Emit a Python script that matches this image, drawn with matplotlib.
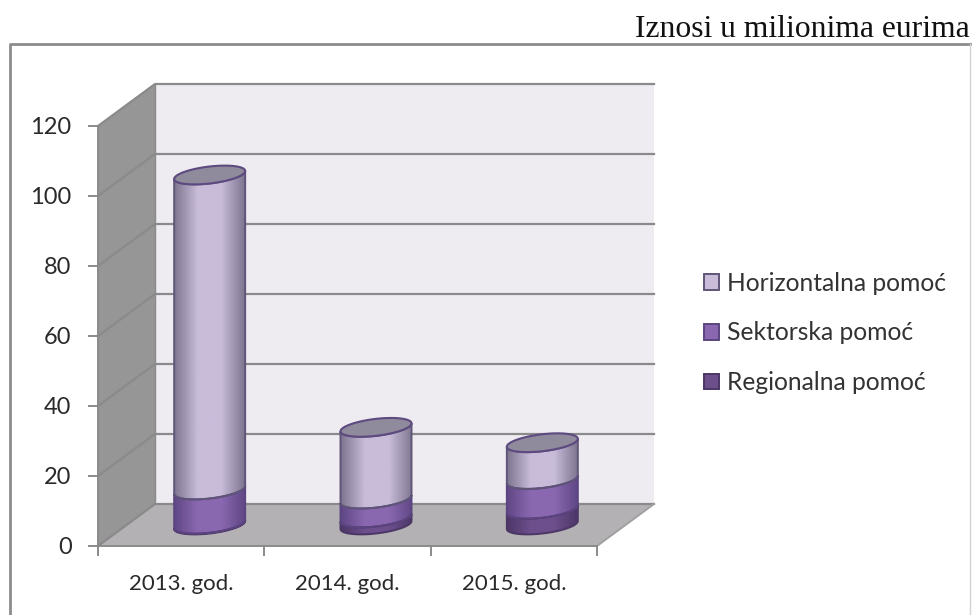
import numpy as np
import matplotlib
matplotlib.use('Agg')
import matplotlib.pyplot as plt
from matplotlib.colors import LinearSegmentedColormap
from matplotlib.lines import Line2D
from matplotlib.patches import Patch, Polygon

# Values
years = ['2013. god.', '2014. god.', '2015. god.']
regionalna = [0.2, 2, 4.5]
sektorska = [9.8, 5.4, 8.5]
horizontalna = [90, 20.5, 10.5]
y_ticks = [0, 20, 40, 60, 80, 100, 120]

W, H = 973, 615
plt.rcParams['font.family'] = ['Lato', 'DejaVu Sans']

fig = plt.figure(figsize=(W / 100, H / 100), dpi=100)
ax = fig.add_axes([98 / W, 1 - 546 / H, (597 - 98) / W, (546 - 126) / H])
ax.set_facecolor('none')

# Depth of the fake 3D box, in data units
dx = 57 / (499 / 3)
dy = 12
n = len(years)

# Outer chart frame and the caption above it
fig.add_artist(Line2D([10 / W, 10 / W, 970 / W], [0, 1 - 44 / H, 1 - 44 / H],
                      transform=fig.transFigure, color='#8c8c8c', linewidth=2, zorder=-1))
fig.add_artist(Line2D([970 / W, 970 / W], [0, 1 - 44 / H], transform=fig.transFigure,
                      color='#d4d4d4', linewidth=1, zorder=-1))
fig.text(970 / W, 1 - 37 / H, 'Iznosi u milionima eurima', family='Liberation Serif',
         fontsize=22.8, color='#111111', ha='right', va='baseline')

# Walls and floor
grid_col = '#8a8a8a'
ax.add_patch(Polygon([(dx, dy), (n + dx, dy), (n + dx, 120 + dy), (dx, 120 + dy)],
                     facecolor='#eeecf1', edgecolor='none', clip_on=False, zorder=1))
ax.add_patch(Polygon([(0, 0), (dx, dy), (dx, 120 + dy), (0, 120)],
                     facecolor='#969696', edgecolor='none', clip_on=False, zorder=1))
ax.add_patch(Polygon([(0, 0), (n, 0), (n + dx, dy), (dx, dy)],
                     facecolor='#b4b1b4', edgecolor='none', clip_on=False, zorder=1))
for t in y_ticks:
    ax.plot([0, dx, n + dx], [t, t + dy, t + dy], color=grid_col, linewidth=1.6,
            clip_on=False, zorder=2)
ax.plot([dx, dx], [dy, 120 + dy], color=grid_col, linewidth=1, clip_on=False, zorder=2)
ax.plot([n, n + dx], [0, dy], color='#a0a0a0', linewidth=1.4, clip_on=False, zorder=2)

# Cylinder shape
half_w = 35.5 / (499 / 3)
half_h = 8.5 / 3.5
tilt = 4 / 3.5


def ring(cx, level, start=0, stop=2 * np.pi):
    t = np.linspace(start, stop, 80)
    return np.column_stack([cx + half_w * np.cos(t),
                            level + half_h * np.sin(t) + tilt * np.cos(t)])


def segment(cx, low, high, edge, mid, line):
    pts = np.vstack([ring(cx, low, np.pi, 2 * np.pi), ring(cx, high, np.pi, 2 * np.pi)[::-1]])
    patch = Polygon(pts, facecolor='none', edgecolor='none', zorder=3)
    ax.add_patch(patch)
    cmap = LinearSegmentedColormap.from_list('c', [edge, mid, mid, edge])
    grad = np.linspace(0, 1, 256).reshape(1, -1)
    img = ax.imshow(grad, cmap=cmap, aspect='auto', zorder=3,
                    extent=[cx - half_w, cx + half_w, pts[:, 1].min(), pts[:, 1].max()])
    img.set_clip_path(patch)
    ax.add_patch(Polygon(pts, facecolor='none', edgecolor=line, linewidth=1.4, zorder=4))


reg_style = ('#4c3768', '#6d4f8c', '#4b3665')
sek_style = ('#5f4785', '#8a68b0', '#5b4480')
hor_style = ('#7d748f', '#c8bcd9', '#5f5578')

for i in range(n):
    cx = i + 0.5 + dx / 2
    base = dy / 2
    lev1 = base + regionalna[i]
    lev2 = lev1 + sektorska[i]
    lev3 = lev2 + horizontalna[i]
    segment(cx, base, lev1, *reg_style)
    segment(cx, lev1, lev2, *sek_style)
    segment(cx, lev2, lev3, *hor_style)
    ax.add_patch(Polygon(ring(cx, lev3), facecolor='#8f8a9c', edgecolor='#5d4a80',
                         linewidth=1.5, zorder=5))

# Axes
ax.set_xlim(0, n)
ax.set_ylim(0, 120)
ax.set_yticks(y_ticks)
ax.set_xticks(range(n + 1))
ax.set_xticklabels([])
ax.set_xticks([i + 0.5 for i in range(n)], labels=years, minor=True)
ax.tick_params(axis='x', which='major', length=7, width=1.2, color='#777777')
ax.tick_params(axis='x', which='minor', length=0, pad=20, labelsize=16, labelcolor='#2a2a2a')
ax.tick_params(axis='y', length=7, width=1.2, color='#777777', labelsize=17,
               labelcolor='#2a2a2a', pad=12)
for side in ['top', 'right']:
    ax.spines[side].set_visible(False)
for side in ['left', 'bottom']:
    ax.spines[side].set_color('#8a8a8a')
    ax.spines[side].set_linewidth(1.4)
    ax.spines[side].set_zorder(2)

# Legend
handles = [Patch(facecolor='#c8bcd9', edgecolor='#5f5578', linewidth=1.4),
           Patch(facecolor='#8a68b0', edgecolor='#5b4480', linewidth=1.4),
           Patch(facecolor='#6d4f8c', edgecolor='#4b3665', linewidth=1.4)]
fig.legend(handles, ['Horizontalna pomoć', 'Sektorska pomoć', 'Regionalna pomoć'],
           loc='center left', bbox_to_anchor=(704 / W, 1 - 333 / H), frameon=False,
           fontsize=17.7, labelcolor='#333333', handlelength=0.6, handleheight=0.6,
           handletextpad=0.33, labelspacing=1.08, borderpad=0, borderaxespad=0)

fig.savefig('out.png', dpi=100)
plt.close(fig)
